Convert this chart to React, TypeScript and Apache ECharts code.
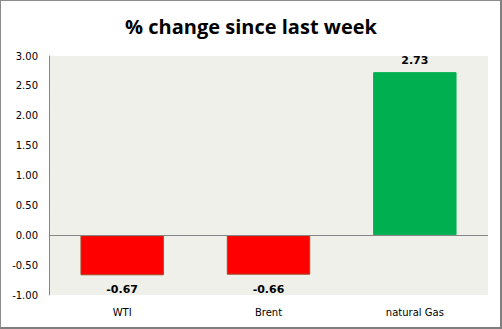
import React, { useEffect, useRef } from "react";
import * as echarts from "echarts";

const categories = ["WTI", "Brent", "natural Gas"];
const values = [-0.67, -0.66, 2.73];
const barColors = ["#FF0000", "#FF0000", "#00B050"];
const borderColors = ["#9C4A2A", "#9C4A2A", "#00B050"];
const yTicks = { min: -1, max: 3, interval: 0.5 };
const title = "% change since last week";

export default function App() {
  const ref = useRef<HTMLDivElement>(null);
  useEffect(() => {
    document.body.style.margin = "0";
    const chart = echarts.init(ref.current!, null, { renderer: "svg" });
    chart.setOption({
      animation: false,
      backgroundColor: "#ffffff",
      title: {
        text: title,
        left: "center",
        top: 11,
        textStyle: { fontFamily: "Open Sans", fontWeight: "bold", fontSize: 20, color: "#000" },
      },
      grid: {
        left: 49,
        right: 14,
        top: 56,
        bottom: 34,
        show: true,
        backgroundColor: "#EFF0E9",
        borderWidth: 0,
      },
      xAxis: {
        type: "category",
        data: categories,
        axisLine: { show: false, onZero: false },
        axisTick: { show: false },
        axisLabel: { fontFamily: "DejaVu Sans", fontSize: 10, color: "#000", margin: 12 },
      },
      yAxis: {
        type: "value",
        min: yTicks.min,
        max: yTicks.max,
        interval: yTicks.interval,
        axisLine: { show: true, lineStyle: { color: "#868686", width: 1 } },
        axisTick: { show: false },
        splitLine: { show: false },
        axisLabel: {
          fontFamily: "DejaVu Sans",
          fontSize: 10,
          color: "#000",
          margin: 11,
          formatter: (v: number) => v.toFixed(2),
        },
      },
      series: [
        {
          type: "bar",
          barWidth: "57%",
          data: values.map((v, i) => ({
            value: v,
            itemStyle: { color: barColors[i], borderColor: borderColors[i], borderWidth: 1 },
            label: {
              show: true,
              position: v < 0 ? "bottom" : "top",
              distance: v < 0 ? 9 : 6,
              formatter: (p: any) => p.value.toFixed(2),
              fontFamily: "DejaVu Sans",
              fontWeight: "bold",
              fontSize: 11,
              color: "#000",
            },
          })),
          markLine: {
            silent: true,
            symbol: "none",
            label: { show: false },
            lineStyle: { color: "#868686", width: 1, type: "solid" },
            data: [{ yAxis: 0 }],
          },
        },
      ],
    });
    return () => chart.dispose();
  }, []);
  return (
    <div style={{ position: "relative", width: 502, height: 329 }}>
      <div ref={ref} style={{ position: "absolute", left: 0, top: 0, width: 502, height: 329 }} />
      <div
        style={{
          position: "absolute",
          left: 0,
          top: 0,
          width: 502,
          height: 329,
          boxSizing: "border-box",
          borderLeft: "1px solid #8C8C8C",
          borderTop: "1px solid #8C8C8C",
          borderRight: "2px solid #7F7F7F",
          borderBottom: "2px solid #7F7F7F",
          pointerEvents: "none",
        }}
      />
    </div>
  );
}
